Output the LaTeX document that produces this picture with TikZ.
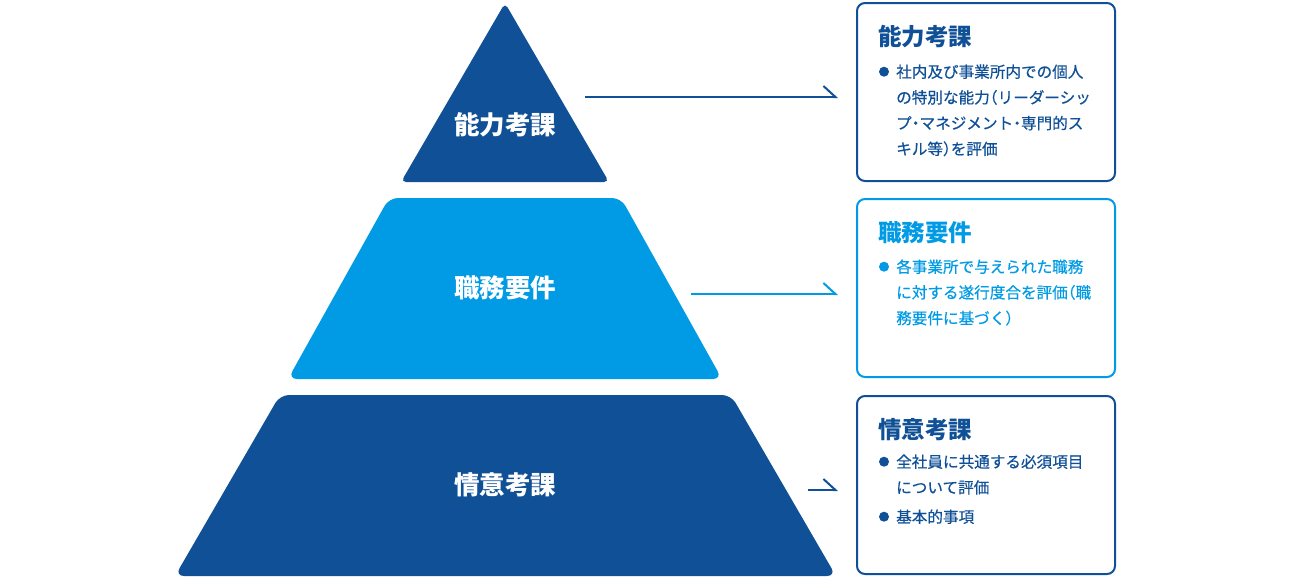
\documentclass[tikz,border=0pt]{standalone}
\usepackage{fontspec}
\setmainfont{Noto Sans CJK JP}
\newfontfamily\jpbody{Noto Sans CJK JP}[FakeBold=0.5]
\usepackage{tikz}
\usetikzlibrary{arrows.meta}

\definecolor{navy}{RGB}{16,80,150}
\definecolor{sky}{RGB}{0,155,228}

% narrow punctuation
\newcommand{\lparen}{\kern-0.5em（}
\newcommand{\rparen}{）\kern-0.5em}
\newcommand{\middot}{\kern-0.25em・\kern-0.25em}

\tikzset{
	layerlabel/.style={text=white, font=\fontsize{25.5}{30}\selectfont\bfseries, inner sep=0pt},
	infobox/.style={draw, line width=2pt, rounded corners=8pt, minimum width=258pt, minimum height=178pt, inner sep=0pt, outer sep=0pt},
	boxtitle/.style={anchor=west, font=\fontsize{23.5}{28}\selectfont\bfseries, inner sep=0pt},
	boxline/.style={anchor=west, font=\jpbody\fontsize{15.6}{20}\selectfont, inner sep=0pt},
	pointer/.style={line width=2pt, -{Straight Barb[harpoon, length=12pt, width=22pt]}}
}

\begin{document}
\begin{tikzpicture}[x=1pt, y=-1pt]
		\useasboundingbox (0, 0) rectangle (1301, 579);
		% pyramid
		\fill[navy, rounded corners=5pt] (505, 3) -- (609, 182) -- (401, 182) -- cycle;
		\fill[sky, rounded corners=9pt] (389, 198) -- (621, 198) -- (722, 379) -- (288, 379) -- cycle;
		\fill[navy, rounded corners=9pt] (280, 395) -- (731, 395) -- (836, 576) -- (175, 576) -- cycle;
		\node[layerlabel] (ability) at (505, 125) {能力考課};
		\node[layerlabel] (duty) at (505, 288) {職務要件};
		\node[layerlabel] (attitude) at (505, 485) {情意考課};

		% boxes
		\node[infobox, draw=navy] (boxA) at (986, 92) {};
		\node[infobox, draw=sky] (boxB) at (986, 288) {};
		\node[infobox, draw=navy] (boxC) at (986, 485) {};

		% connectors
		\coordinate (fromA) at (585, 97);
		\coordinate (toA) at (838, 97);
		\coordinate (fromB) at (691, 294);
		\coordinate (toB) at (838, 294);
		\coordinate (fromC) at (808, 490);
		\coordinate (toC) at (838, 490);
		\draw[pointer, navy] (fromA) -- (toA);
		\draw[pointer, sky] (fromB) -- (toB);
		\draw[pointer, navy] (fromC) -- (toC);

		% box texts
		\node[boxtitle, text=navy] (titleA) at (878, 36.5) {能力考課};
		\fill[navy] (884, 71.7) circle (5pt);
		\foreach \txt [count=\i from 0] in {社内及び事業所内での個人, の特別な能力\lparen リーダーシッ, プ\middot マネジメント\middot 専門的ス, キル等\rparen を評価}
			\node[boxline, text=navy] (lineA\i) at (896, 71.7+25.7*\i) {\txt};

		\node[boxtitle, text=sky] (titleB) at (878, 233) {職務要件};
		\fill[sky] (884, 266.7) circle (5pt);
		\foreach \txt [count=\i from 0] in {各事業所で与えられた職務, に対する遂行度合を評価\lparen 職, 務要件に基づく\rparen}
			\node[boxline, text=sky] (lineB\i) at (896, 266.7+25.7*\i) {\txt};

		\node[boxtitle, text=navy] (titleC) at (878, 430) {情意考課};
		\fill[navy] (884, 461.7) circle (5pt);
		\foreach \txt [count=\i from 0] in {全社員に共通する必須項目, について評価}
			\node[boxline, text=navy] (lineC\i) at (896, 461.7+25.7*\i) {\txt};
		\fill[navy] (884, 516.7) circle (5pt);
		\node[boxline, text=navy] (lineC2) at (896, 516.7) {基本的事項};
	\end{tikzpicture}
\end{document}
